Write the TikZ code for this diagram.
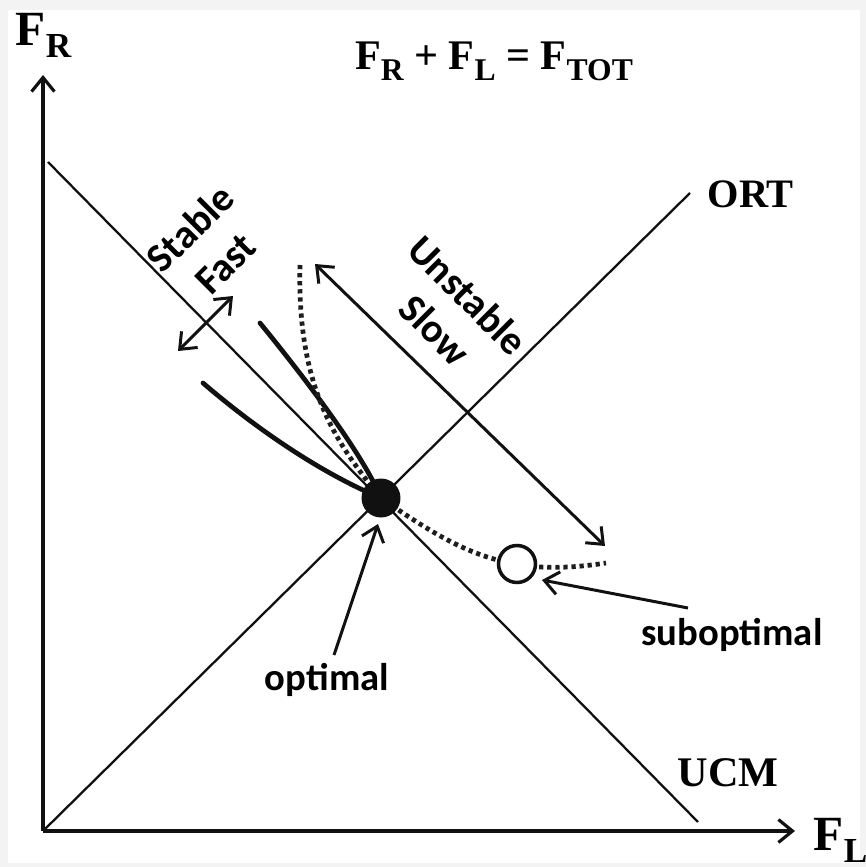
\documentclass[tikz,border=0pt]{standalone}
\usepackage{fontspec}
\setmainfont{Liberation Serif}
\newfontfamily\labelsans{Carlito}
\usepackage{tikz}
\usetikzlibrary{arrows.meta}
\definecolor{SynInk}{HTML}{111111}
\definecolor{SynDots}{HTML}{1E1E1E}
\definecolor{SynFrame}{HTML}{F3F3F3}
\newcommand{\forcesub}[3]{F\raisebox{#3}{\fontsize{#2}{#2}\selectfont #1}}

\begin{document}
\begin{tikzpicture}[x=0.1mm,y=0.1mm,>={Straight Barb[length=4pt,width=6.5pt]},
  axisline/.style={SynInk,line width=0.9pt,->},
  refline/.style={SynInk,line width=0.65pt},
  solidarm/.style={SynInk,line width=1.35pt,line cap=round},
  dotarm/.style={SynDots,line width=1.35pt,dash pattern=on 1.2pt off 1.1pt},
  ptr/.style={SynInk,line width=0.85pt,->},
  ptrboth/.style={SynInk,line width=0.85pt,<->},
  sanslbl/.style={font=\labelsans\bfseries\fontsize{11}{13}\selectfont,inner sep=0pt},
  seriflbl/.style={font=\bfseries\fontsize{12}{14}\selectfont,inner sep=0pt}]
  \fill[SynFrame] (0,0) rectangle (866,867);
  \fill[white] (8,4) rectangle (860,857);
  \useasboundingbox (0,0) rectangle (866,867);
  \coordinate (O) at (43,36);
  \coordinate (ytip) at (43,792);
  \coordinate (xtip) at (795,36);
  \coordinate (ucmA) at (48,705);
  \coordinate (ucmB) at (698,45);
  \coordinate (ortB) at (690,674);
  \coordinate (optc) at (381,369);
  \coordinate (subc) at (517,303);
  \draw[refline] (ucmA) -- (ucmB);
  \draw[refline] (O) -- (ortB);
  \draw[axisline] (O) -- (ytip);
  \draw[axisline] (O) -- (xtip);
  \draw[solidarm] (260,544) .. controls (300,495) and (362,415) .. (optc);
  \draw[solidarm] (203,484) .. controls (260,435) and (325,392) .. (optc);
  \draw[dotarm] (300,602) .. controls (297,480) and (335,425) .. (optc)
    .. controls (430,335) and (470,310) .. (subc)
    .. controls (545,297) and (580,300) .. (606,304);
  \node[circle,fill=SynInk,minimum size=3.9mm,inner sep=0pt] (opt) at (optc) {};
  \node[circle,draw=SynInk,fill=white,line width=1pt,minimum size=3.7mm,inner sep=0pt] (subopt) at (subc) {};
  \coordinate (fastA) at (178,516);
  \coordinate (fastB) at (233,571);
  \coordinate (slowA) at (315,603);
  \coordinate (slowB) at (605,321);
  \draw[ptrboth] (fastA) -- (fastB);
  \draw[ptrboth] (slowA) -- (slowB);
  \node[sanslbl,font=\labelsans\bfseries\fontsize{11.5}{13}\selectfont,rotate=45] (stable) at (190,639) {Stable};
  \node[sanslbl,font=\labelsans\bfseries\fontsize{11.5}{13}\selectfont,rotate=45] (fast) at (226,603) {Fast};
  \node[sanslbl,font=\labelsans\bfseries\fontsize{11.5}{13}\selectfont,rotate=-45] (unstable) at (468,572) {Unstable};
  \node[sanslbl,font=\labelsans\bfseries\fontsize{11.5}{13}\selectfont,rotate=-45] (slow) at (435,537) {Slow};
  \node[sanslbl] (optlbl) at (327,187) {optimal};
  \node[sanslbl] (sublbl) at (732,232) {suboptimal};
  \coordinate (optTail) at (334,212);
  \coordinate (optTip) at (378,343);
  \coordinate (subTail) at (688,259);
  \coordinate (subTip) at (542,287);
  \draw[ptr] (optTail) -- (optTip);
  \draw[ptr] (subTail) -- (subTip);
  \node[seriflbl,anchor=base west] (ucm) at (677,80) {UCM};
  \node[seriflbl,font=\bfseries\fontsize{11.5}{14}\selectfont,anchor=base west] (ort) at (707,659) {ORT};
  \node[seriflbl,font=\bfseries\fontsize{14}{16}\selectfont,anchor=base west] (fr) at (15,822) {\forcesub{R}{10}{-3.5pt}};
  \node[seriflbl,font=\bfseries\fontsize{14}{16}\selectfont,anchor=base west] (fl) at (813,17) {\forcesub{L}{10}{-3.5pt}};
  \node[seriflbl,anchor=base] (sum) at (494,797) {\forcesub{R}{9}{-3pt} + \forcesub{L}{9}{-3pt} = \forcesub{TOT}{9}{-3pt}};
\end{tikzpicture}
\end{document}
